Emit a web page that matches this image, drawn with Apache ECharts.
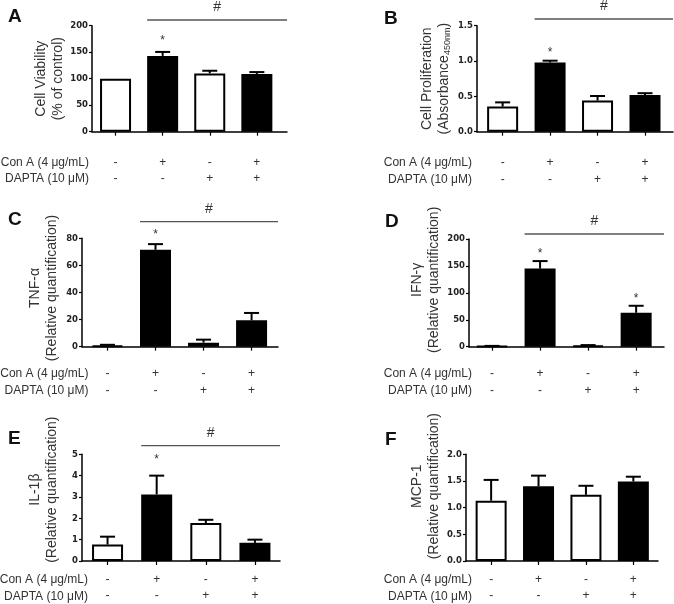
<!DOCTYPE html>
<html><head><meta charset="utf-8">
<script src="https://cdn.jsdelivr.net/npm/echarts@6/dist/echarts.min.js"></script>
<style>html,body{margin:0;padding:0;background:#fff}#c{width:674px;height:604px}</style>
</head><body><div id="c"></div>
<script>
// ---- data ----
const conA = ['-', '+', '-', '+'];
const dapta = ['-', '-', '+', '+'];
const rowLabels = ['Con A (4 \u03bcg/mL)', 'DAPTA (10 \u03bcM)'];
const panelLetters = ['A', 'B', 'C', 'D', 'E', 'F'];

const valuesA = [100, 143, 110, 109];
const errorsA = [0, 7.5, 5, 3.5];
const starsA = ['', '*', '', ''];
const yAxisA = [0, 200, 50];
const yNameA = '{a|Cell Viability}\n{a|(% of control)}';

const valuesB = [0.355, 0.98, 0.44, 0.52];
const errorsB = [0.06, 0.025, 0.065, 0.025];
const starsB = ['', '*', '', ''];
const yAxisB = [0, 1.5, 0.5];
const yNameB = '{a|Cell Proliferation}\n{a|(Absorbance}{s|450nm}{a|)}';

const valuesC = [0.8, 71.5, 3, 19.5];
const errorsC = [0.6, 4.2, 2.2, 5.4];
const starsC = ['', '*', '', ''];
const yAxisC = [0, 80, 20];
const yNameC = '{a|TNF-\u03b1}\n{a|(Relative quantification)}';

const valuesD = [1, 145, 2, 63];
const errorsD = [0.5, 14, 1, 13];
const starsD = ['', '*', '', '*'];
const yAxisD = [0, 200, 50];
const yNameD = '{a|IFN-\u03b3}\n{a|(Relative quantification)}';

const valuesE = [0.77, 3.12, 1.78, 0.85];
const errorsE = [0.37, 0.88, 0.15, 0.15];
const starsE = ['', '*', '', ''];
const yAxisE = [0, 5, 1];
const yNameE = '{a|IL-1\u03b2}\n{a|(Relative quantification)}';

const valuesF = [1.13, 1.40, 1.24, 1.49];
const errorsF = [0.39, 0.20, 0.17, 0.09];
const starsF = ['', '', '', ''];
const yAxisF = [0, 2, 0.5];
const yNameF = '{a|MCP-1}\n{a|(Relative quantification)}';

const hashMark = '#';
const hashStartIndex = 1;

// ---- layout ----
const panels = [
  {vals: valuesA, errs: errorsA, stars: starsA, yr: yAxisA, name: yNameA, dec: 0, hash: true,
   grid: {left: 92, top: 25.7, width: 195, height: 106}, xr: [-0.5, 3.64], nameGap: 25, namePad: 0,
   labelMargin: 22.7, rowRight: 89, starGap: 14, hashOff: 5.7, letter: [8, 7.6]},
  {vals: valuesB, errs: errorsB, stars: starsB, yr: yAxisB, name: yNameB, dec: 1, hash: true,
   grid: {left: 477, top: 25.7, width: 196, height: 106}, xr: [-0.54, 3.59], nameGap: 24.5, namePad: 0,
   labelMargin: 23, rowRight: 472, starGap: 11, hashOff: 6.7, letter: [384, 9.6]},
  {vals: valuesC, errs: errorsC, stars: starsC, yr: yAxisC, name: yNameC, dec: 0, hash: true,
   grid: {left: 82, top: 238.3, width: 196, height: 108.4}, xr: [-0.53, 3.55], nameGap: 21.5, namePad: 9,
   labelMargin: 19, rowRight: 88.5, starGap: 12.5, hashOff: 16.6, letter: [8, 210.6]},
  {vals: valuesD, errs: errorsD, stars: starsD, yr: yAxisD, name: yNameD, dec: 0, hash: true,
   grid: {left: 469, top: 239, width: 195, height: 107.7}, xr: [-0.48, 3.58], nameGap: 26.5, namePad: 26,
   labelMargin: 19, rowRight: 472, starGap: 10, hashOff: 5, letter: [385, 212.6]},
  {vals: valuesE, errs: errorsE, stars: starsE, yr: yAxisE, name: yNameE, dec: 0, hash: true,
   grid: {left: 82, top: 454.3, width: 198, height: 107.4}, xr: [-0.52, 3.51], nameGap: 21.5, namePad: 36,
   labelMargin: 10, rowRight: 88, starGap: 19, hashOff: 8.6, letter: [8, 429.3]},
  {vals: valuesF, errs: errorsF, stars: starsF, yr: yAxisF, name: yNameF, dec: 1, hash: false,
   grid: {left: 466, top: 454.3, width: 192, height: 107.4}, xr: [-0.53, 3.52], nameGap: 23.5, namePad: 43,
   labelMargin: 10, rowRight: 472, starGap: 12, hashOff: 6, letter: [385, 430.6]}
];

const BAR_W = 31;
const CAP = 7.5;
const LINE_H = 16.5;
const TXT = '#333';
const FONT = '"Liberation Sans", Arial, sans-serif';
const cats = [0, 1, 2, 3];

const option = {
  animation: false,
  backgroundColor: '#fff',
  title: [], grid: [], xAxis: [], yAxis: [], series: [], graphic: []
};

panels.forEach((p, i) => {
  option.title.push({
    text: panelLetters[i], left: p.letter[0], top: p.letter[1], padding: 0,
    textStyle: {fontSize: 19, fontWeight: 'bold', fontFamily: FONT, color: '#111'}
  });
  option.grid.push(Object.assign({containLabel: false}, p.grid));
  option.xAxis.push({
    gridIndex: i, type: 'value', min: p.xr[0], max: p.xr[1],
    axisLine: {show: true, onZero: false, lineStyle: {color: '#000', width: 1.5}},
    axisTick: {show: true, customValues: cats, length: 4, lineStyle: {color: '#000', width: 1.2}},
    axisLabel: {show: true, customValues: cats, margin: p.labelMargin, fontSize: 12, lineHeight: LINE_H,
      fontFamily: FONT, color: TXT, formatter: v => conA[Math.round(v)] + '\n' + dapta[Math.round(v)]},
    splitLine: {show: false}
  });
  option.yAxis.push({
    gridIndex: i, type: 'value', min: p.yr[0], max: p.yr[1], interval: p.yr[2],
    axisLine: {show: true, onZero: false, lineStyle: {color: '#000', width: 1.5}},
    axisTick: {show: true, length: 3, lineStyle: {color: '#000', width: 1.2}},
    axisLabel: {margin: 4, fontSize: 8.5, fontWeight: 'bold', fontFamily: '"DejaVu Sans", sans-serif',
      color: '#222', formatter: v => v.toFixed(p.dec)},
    splitLine: {show: false},
    name: p.name, nameLocation: 'middle', nameRotate: 90, nameGap: p.nameGap,
    nameTextStyle: {
      padding: [0, 0, 0, p.namePad],
      rich: {
        a: {fontSize: 14, lineHeight: 17, fontFamily: FONT, color: TXT},
        s: {fontSize: 9, lineHeight: 10, verticalAlign: 'bottom', fontFamily: FONT, color: TXT}
      }
    }
  });
  option.series.push({
    type: 'bar', xAxisIndex: i, yAxisIndex: i, barWidth: BAR_W, z: 2,
    itemStyle: {borderColor: '#000', borderWidth: 2},
    data: p.vals.map((v, k) => ({value: [k, v], itemStyle: {color: conA[k] === '+' ? '#000' : '#fff'}}))
  });
  option.series.push({
    type: 'custom', xAxisIndex: i, yAxisIndex: i, z: 3, clip: false,
    data: p.vals.map((v, k) => [k, v, p.errs[k]]),
    renderItem: (params, api) => {
      const k = api.value(0), v = api.value(1), e = api.value(2);
      const base = api.coord([k, v]);
      const top = api.coord([k, v + e]);
      const children = [];
      if (e > 0) {
        children.push({type: 'line', shape: {x1: base[0], y1: base[1], x2: top[0], y2: top[1]},
          style: {stroke: '#000', lineWidth: 2}});
        children.push({type: 'line', shape: {x1: top[0] - CAP, y1: top[1], x2: top[0] + CAP, y2: top[1]},
          style: {stroke: '#000', lineWidth: 2}});
      }
      const star = p.stars[params.dataIndex];
      if (star) {
        children.push({type: 'text', x: top[0], y: top[1] - p.starGap + 3,
          style: {text: star, align: 'center', verticalAlign: 'middle', fontSize: 12, fontFamily: FONT, fill: TXT}});
      }
      return {type: 'group', children};
    }
  });
  if (p.hash) {
    option.series.push({
      type: 'custom', xAxisIndex: i, yAxisIndex: i, z: 3, clip: false,
      data: [[hashStartIndex, 0]],
      renderItem: (params, api) => {
        const cs = params.coordSys;
        const x0 = api.coord([api.value(0), 0])[0] - BAR_W / 2;
        const x1 = cs.x + cs.width;
        const y = cs.y - p.hashOff;
        return {type: 'group', children: [
          {type: 'line', shape: {x1: x0, y1: y, x2: x1, y2: y}, style: {stroke: '#555', lineWidth: 1.3}},
          {type: 'text', x: (x0 + x1) / 2, y: y - 12.5,
           style: {text: hashMark, align: 'center', verticalAlign: 'middle', fontSize: 14, fontFamily: FONT, fill: TXT}}
        ]};
      }
    });
  }
  const bottom = p.grid.top + p.grid.height;
  rowLabels.forEach((t, r) => {
    option.graphic.push({
      type: 'text', x: p.rowRight, y: bottom + p.labelMargin + LINE_H / 2 + r * LINE_H,
      style: {text: t, align: 'right', verticalAlign: 'middle', fontSize: 12, fontFamily: FONT, fill: TXT}
    });
  });
});

const chart = echarts.init(document.getElementById('c'), null, {renderer: 'canvas'});
chart.setOption(option);
</script>
</body></html>
